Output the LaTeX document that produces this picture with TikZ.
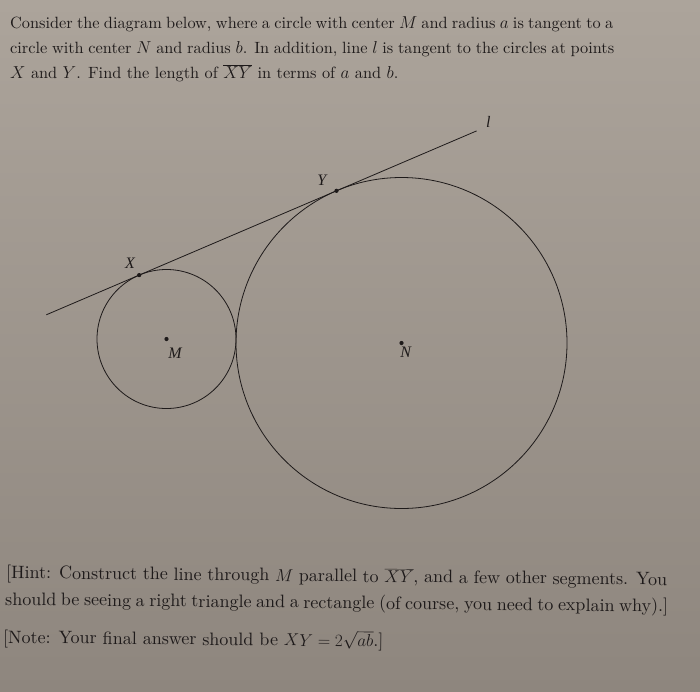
\documentclass[tikz,border=0pt]{standalone}
\usepackage{fontspec}
\setmainfont{Latin Modern Roman}[OpticalSize=10]
\newfontfamily\lblfont{Liberation Serif}
\usetikzlibrary{calc}
\definecolor{paperTop}{RGB}{172,164,155}
\definecolor{paperBot}{RGB}{142,134,126}
\definecolor{ink}{RGB}{30,26,26}
\begin{document}
\begin{tikzpicture}[
  geom/.style={draw=ink, line width=0.8pt},
  ptdot/.style={circle, fill=ink, inner sep=0pt, minimum size=4.2pt},
  lbl/.style={text=ink, font=\lblfont\itshape\fontsize{16}{16}\selectfont, inner sep=0pt},
  bodytext/.style={text=ink, anchor=base west, inner sep=0pt, font=\fontsize{16.3}{19}\selectfont},
  hinttext/.style={bodytext, font=\fontsize{18}{20}\selectfont, rotate=-0.6},
]
\shade[top color=paperTop, bottom color=paperBot] (0,0) rectangle (700pt,-691pt);
\useasboundingbox (0,0) rectangle (700pt,-691pt);

\coordinate (M) at (166.5pt,-339pt);
\coordinate (N) at (401.5pt,-343pt);
\draw[geom] (M) circle[radius=69.5pt];
\draw[geom] (N) circle[radius=165.5pt];
\coordinate (X) at ($(M)+(113.14:69.5pt)$);
\coordinate (Y) at ($(N)+(113.14:165.5pt)$);
\coordinate (lstart) at ($(X)+(203.14:101pt)$);
\coordinate (lend) at ($(X)+(23.14:367pt)$);
\draw[geom] (lstart) -- (X) -- (Y) -- (lend);

\node[ptdot] (Xdot) at (X) {};
\node[ptdot] (Ydot) at (Y) {};
\node[ptdot] (Mdot) at (M) {};
\node[ptdot] (Ndot) at (N) {};

\node[lbl] (Xl) at (130pt,-263pt) {X};
\node[lbl] (Yl) at (321.7pt,-180pt) {Y};
\node[lbl] (ll) at (488.3pt,-121.7pt) {l};
\node[lbl] (Ml) at (175pt,-353.3pt) {M};
\node[lbl] (Nl) at (405.7pt,-352.7pt) {N};

\node[bodytext] (t1) at (10pt,-28.5pt) {\makebox[603pt][s]{Consider the diagram below, where a circle with center $M$ and radius $a$ is tangent to a}};
\node[bodytext] (t2) at (10pt,-53.5pt) {\makebox[604pt][s]{circle with center $N$ and radius $b$. In addition, line $l$ is tangent to the circles at points}};
\node[bodytext] (t3) at (10pt,-78pt) {$X$ and $Y$. Find the length of $\overline{XY}$ in terms of $a$ and $b$.};

\node[hinttext] (h1) at (6pt,-578.3pt) {\makebox[661pt][s]{[Hint: Construct the line through $M$ parallel to $\overline{XY}$, and a few other segments. You}};
\node[hinttext] (h2) at (5pt,-605pt) {\makebox[663pt][s]{should be seeing a right triangle and a rectangle (of course, you need to explain why).]}};
\node[hinttext] (h3) at (3pt,-643pt) {[Note: Your final answer should be $XY = 2\sqrt{ab}$.]};
\end{tikzpicture}
\end{document}
